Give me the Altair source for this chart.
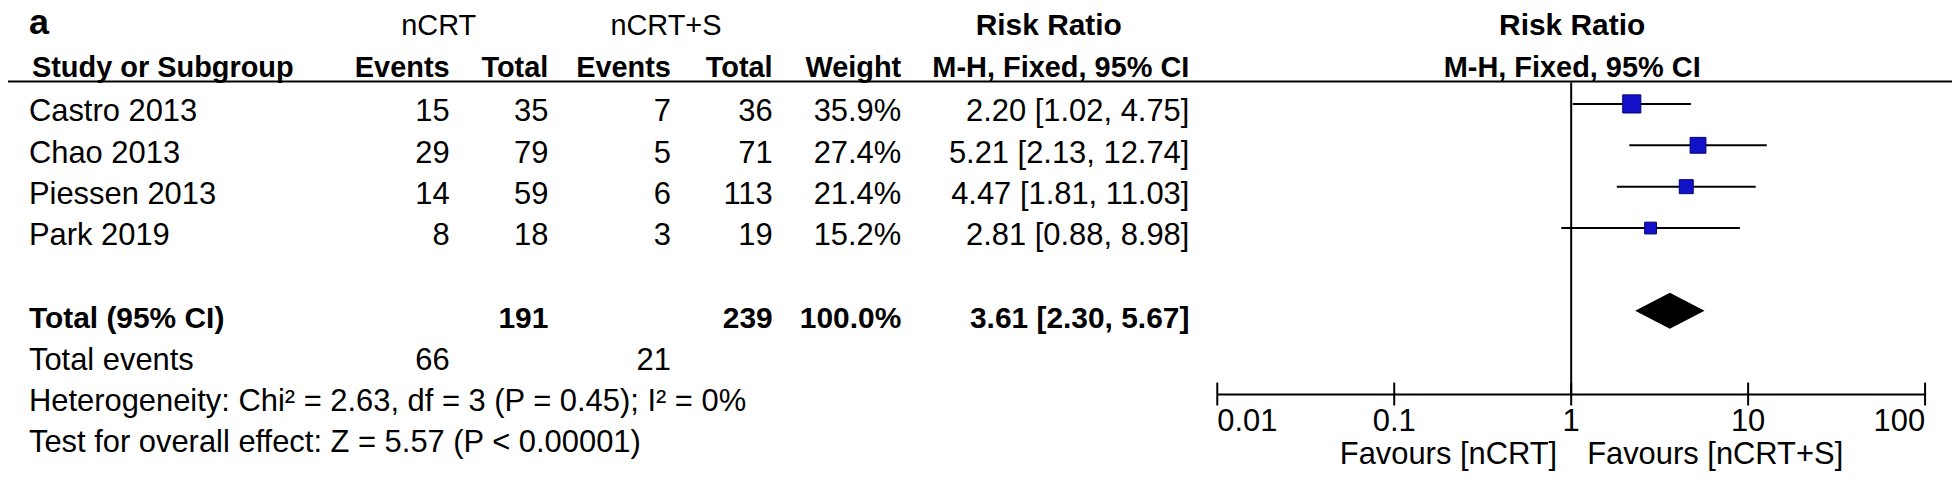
import altair as alt
import pandas as pd

# ---------------- data ----------------
studies = ["Castro 2013", "Chao 2013", "Piessen 2013", "Park 2019"]
ev_ncrt = [15, 29, 14, 8]
tot_ncrt = [35, 79, 59, 18]
ev_ncrts = [7, 5, 6, 3]
tot_ncrts = [36, 71, 113, 19]
weights = [35.9, 27.4, 21.4, 15.2]
rr = [2.20, 5.21, 4.47, 2.81]
rr_lo = [1.02, 2.13, 1.81, 0.88]
rr_hi = [4.75, 12.74, 11.03, 8.98]

total_label = "Total (95% CI)"
total_n = [191, 239]
total_weight = "100.0%"
total_rr, total_lo, total_hi = 3.61, 2.30, 5.67
total_events = [66, 21]
het_text = "Heterogeneity: Chi\u00b2 = 2.63, df = 3 (P = 0.45); I\u00b2 = 0%"
test_text = "Test for overall effect: Z = 5.57 (P < 0.00001)"

tick_values = [0.01, 0.1, 1, 10, 100]
tick_labels = ["0.01", "0.1", "1", "10", "100"]

# ---------------- layout ----------------
W, H = 1950, 467
OFF = 8
ROW0, PITCH = 103.5, 41.5          # page y of row 0 and row pitch
FONT = "Liberation Sans, Arial, Helvetica, sans-serif"
FS = 31
FSB = 30
TXT_DY = 8.5

def px(page_x):
    return page_x - OFF

a = -(ROW0 - OFF) / PITCH
YS = alt.Scale(domain=[a, a + H / PITCH], reverse=True, nice=False, zero=False)
DEC = 177.5
lx0 = -(1576 - OFF) / DEC
XS = alt.Scale(type="log", domain=[10 ** lx0, 10 ** (lx0 + W / DEC)], nice=False)

Y = alt.Y("row:Q", scale=YS, axis=None)

study_df = pd.DataFrame({
    "row": list(range(len(studies))),
    "name": studies,
    "e1": [str(v) for v in ev_ncrt],
    "t1": [str(v) for v in tot_ncrt],
    "e2": [str(v) for v in ev_ncrts],
    "t2": [str(v) for v in tot_ncrts],
    "w": [f"{v:.1f}%" for v in weights],
    "ci": [f"{m:.2f} [{l:.2f}, {h:.2f}]" for m, l, h in zip(rr, rr_lo, rr_hi)],
    "rr": rr, "lo": rr_lo, "hi": rr_hi, "weight": weights,
})

TOTAL_ROW = len(studies) + 1
total_df = pd.DataFrame({
    "row": [TOTAL_ROW], "name": [total_label],
    "t1": [str(total_n[0])], "t2": [str(total_n[1])],
    "w": [total_weight],
    "ci": [f"{total_rr:.2f} [{total_lo:.2f}, {total_hi:.2f}]"],
})
events_df = pd.DataFrame({"row": [TOTAL_ROW + 1], "name": ["Total events"],
                          "e1": [str(total_events[0])], "e2": [str(total_events[1])]})
stats_df = pd.DataFrame({"row": [TOTAL_ROW + 2, TOTAL_ROW + 3], "name": [het_text, test_text]})

def col(df, field, page_x, align="right", bold=False, size=None):
    return alt.Chart(df).mark_text(
        align=align, baseline="middle", font=FONT, dy=TXT_DY,
        fontSize=size or (FSB if bold else FS),
        fontWeight="bold" if bold else "normal", color="black",
    ).encode(x=alt.value(px(page_x)), y=Y, text=f"{field}:N")

def label(text, page_x, page_y, align="center", bold=False, size=FS, baseline="middle"):
    return alt.Chart(pd.DataFrame({"t": [text]})).mark_text(
        align=align, baseline=baseline, font=FONT, fontSize=size,
        fontWeight="bold" if bold else "normal", color="black",
    ).encode(x=alt.value(px(page_x)), y=alt.value(page_y - OFF), text="t:N")

layers = []

# panel letter and headers
layers += [
    label("a", 29, 33, align="left", bold=True, size=36, baseline="alphabetic"),
    label("nCRT", 440, 25, size=29),
    label("nCRT+S", 668, 25, size=29),
    label("Risk Ratio", 1052, 25, bold=True, size=30),
    label("Risk Ratio", 1577, 25, bold=True, size=30),
    label("Study or Subgroup", 32, 67, align="left", bold=True, size=29),
    label("Events", 451, 67, align="right", bold=True, size=29),
    label("Total", 550, 67, align="right", bold=True, size=29),
    label("Events", 673, 67, align="right", bold=True, size=29),
    label("Total", 775, 67, align="right", bold=True, size=29),
    label("Weight", 904, 67, align="right", bold=True, size=29),
    label("M-H, Fixed, 95% CI", 1193, 67, align="right", bold=True, size=29),
    label("M-H, Fixed, 95% CI", 1577, 67, bold=True, size=29),
]

# header rule
layers.append(
    alt.Chart(pd.DataFrame({"t": [0]})).mark_rule(color="black", strokeWidth=2).encode(
        x=alt.value(px(0)), x2=alt.value(px(1960)), y=alt.value(81 - OFF))
)

# table columns
layers += [
    col(study_df, "name", 29, align="left"),
    col(study_df, "e1", 451), col(study_df, "t1", 550),
    col(study_df, "e2", 673), col(study_df, "t2", 775),
    col(study_df, "w", 904), col(study_df, "ci", 1193),
    col(total_df, "name", 29, align="left", bold=True),
    col(total_df, "t1", 550, bold=True), col(total_df, "t2", 775, bold=True),
    col(total_df, "w", 904, bold=True), col(total_df, "ci", 1193, bold=True),
    col(events_df, "name", 29, align="left"),
    col(events_df, "e1", 451), col(events_df, "e2", 673),
    col(stats_df, "name", 29, align="left"),
]

# forest plot
ref_df = pd.DataFrame({"v": [1]})
layers.append(
    alt.Chart(ref_df).mark_rule(color="black", strokeWidth=2).encode(
        x=alt.X("v:Q", scale=XS, axis=None), y=alt.value(82 - OFF), y2=alt.value(395 - OFF))
)
layers.append(
    alt.Chart(study_df).mark_rule(color="black", strokeWidth=2).encode(
        x=alt.X("lo:Q", scale=XS, axis=None), x2="hi:Q", y=Y)
)
layers.append(
    alt.Chart(study_df).mark_square(filled=True, fill="#1212c8", stroke="#000070",
                                    strokeWidth=1, opacity=1).encode(
        x=alt.X("rr:Q", scale=XS, axis=None), y=Y,
        size=alt.Size("weight:Q", scale=alt.Scale(domain=[0, max(weights)], range=[0, 330]),
                      legend=None))
)
HALF = 18 / PITCH
diamond_df = pd.DataFrame({
    "x": [total_lo, total_rr, total_hi],
    "y1": [TOTAL_ROW, TOTAL_ROW - HALF, TOTAL_ROW],
    "y2": [TOTAL_ROW, TOTAL_ROW + HALF, TOTAL_ROW],
})
layers.append(
    alt.Chart(diamond_df).mark_area(color="black", orient="vertical", interpolate="linear").encode(
        x=alt.X("x:Q", scale=XS, axis=None),
        y=alt.Y("y1:Q", scale=YS, axis=None), y2="y2:Q")
)

# axis
ticks_df = pd.DataFrame({"v": tick_values, "lab": tick_labels})
axis_df = pd.DataFrame({"v": [tick_values[0]], "v2": [tick_values[-1]]})
layers.append(
    alt.Chart(axis_df).mark_rule(color="black", strokeWidth=2).encode(
        x=alt.X("v:Q", scale=XS, axis=None), x2="v2:Q", y=alt.value(395 - OFF))
)
layers.append(
    alt.Chart(ticks_df).mark_rule(color="black", strokeWidth=2).encode(
        x=alt.X("v:Q", scale=XS, axis=None), y=alt.value(383 - OFF), y2=alt.value(406 - OFF))
)
for part, align in ((ticks_df.iloc[:1], "left"), (ticks_df.iloc[1:-1], "center"),
                    (ticks_df.iloc[-1:], "right")):
    layers.append(
        alt.Chart(part).mark_text(font=FONT, fontSize=FS, baseline="middle", align=align,
                                  color="black").encode(
            x=alt.X("v:Q", scale=XS, axis=None), y=alt.value(423 - OFF), text="lab:N")
    )
layers += [
    label("Favours [nCRT]", 1562, 456, align="right"),
    label("Favours [nCRT+S]", 1592, 456, align="left"),
]

chart = alt.layer(*layers).properties(
    width=W, height=H, padding=0,
    autosize=alt.AutoSizeParams(type="none"),
    background="white",
).configure_view(stroke=None)

chart.save("out.html", embed_options={"renderer": "svg", "actions": False})
